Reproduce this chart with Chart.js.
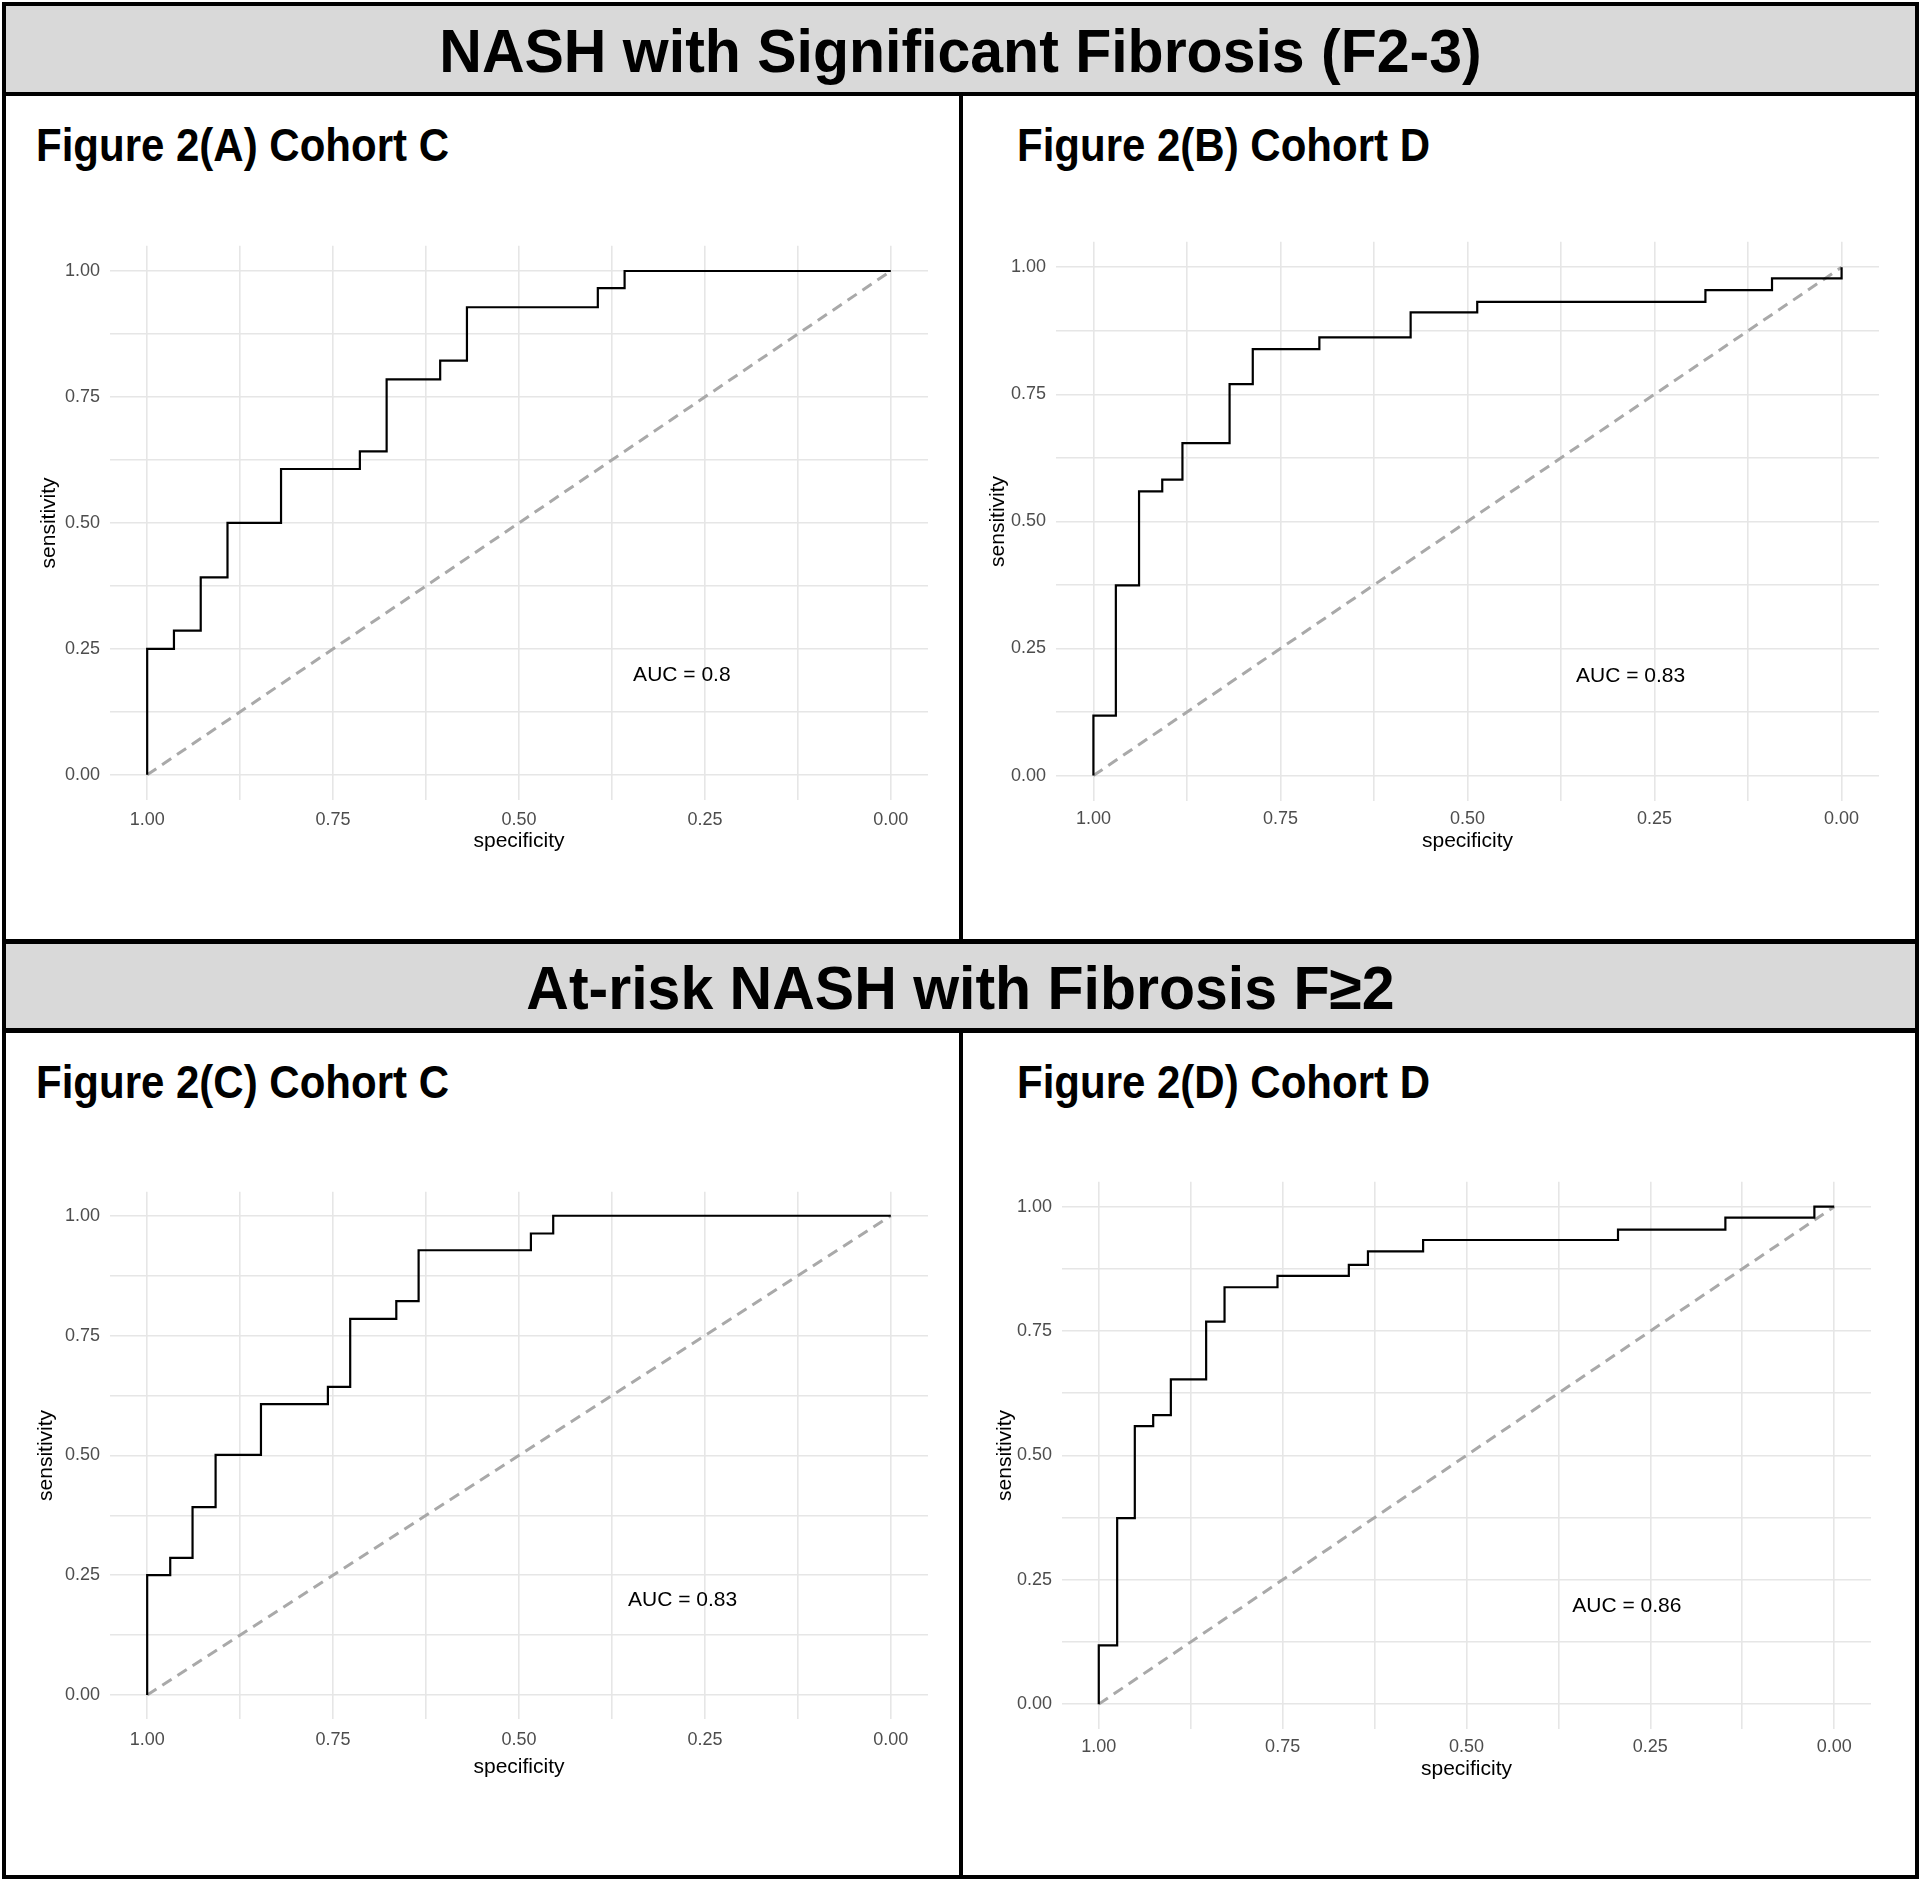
<!DOCTYPE html>
<html>
<head>
<meta charset="utf-8">
<script src="https://cdn.jsdelivr.net/npm/chart.js@4.4.0/dist/chart.umd.min.js"></script>
<style>
body{margin:0;background:#fff;font-family:"Liberation Sans",Arial,sans-serif;}
#page{position:relative;width:1920px;height:1883px;overflow:hidden;background:#fff;}
.frame{position:absolute;left:2px;top:2px;width:1917px;height:1877px;box-sizing:border-box;border:4px solid #000;}
.band{position:absolute;left:6px;width:1909px;background:#d9d9d9;display:flex;align-items:center;justify-content:center;font-weight:bold;font-size:59px;color:#000;white-space:nowrap;box-sizing:border-box;padding-top:3px;}
.band span{display:inline-block;transform:scaleY(1.05);}
.line{position:absolute;background:#000;}
.ptitle{position:absolute;font-weight:bold;font-size:42px;line-height:42px;white-space:nowrap;color:#000;transform:scaleY(1.08);transform-origin:0 36px;}
canvas{position:absolute;}
</style>
</head>
<body>
<div id="page">
  <div class="band" style="top:6px;height:86px;"><span>NASH with Significant Fibrosis (F2-3)</span></div>
  <div class="line" style="left:6px;top:92px;width:1909px;height:4px;"></div>
  <div class="line" style="left:959px;top:96px;width:4px;height:843px;"></div>
  <div class="line" style="left:6px;top:939px;width:1909px;height:5px;"></div>
  <div class="band" style="top:944px;height:84px;"><span>At-risk NASH with Fibrosis F≥2</span></div>
  <div class="line" style="left:6px;top:1028px;width:1909px;height:5px;"></div>
  <div class="line" style="left:959px;top:1033px;width:4px;height:842px;"></div>
  <div class="frame"></div>

  <div class="ptitle" style="left:36px;top:126px;">Figure 2(A) Cohort C</div>
  <div class="ptitle" style="left:1017px;top:126px;">Figure 2(B) Cohort D</div>
  <div class="ptitle" style="left:36px;top:1063px;">Figure 2(C) Cohort C</div>
  <div class="ptitle" style="left:1017px;top:1063px;">Figure 2(D) Cohort D</div>

  <canvas id="chartA"></canvas>
  <canvas id="chartB"></canvas>
  <canvas id="chartC"></canvas>
  <canvas id="chartD"></canvas>
</div>

<script>
"use strict";

// DATA (ROC corner points: specificity, sensitivity)

const specA = [1.000, 0.964, 0.928, 0.892, 0.820, 0.714, 0.678, 0.606, 0.570, 0.394, 0.358, 0.000];
const sensA = [0.000, 0.250, 0.286, 0.392, 0.500, 0.607, 0.642, 0.785, 0.822, 0.928, 0.966, 1.000];

const specB = [1.000, 0.970, 0.939, 0.908, 0.881, 0.818, 0.787, 0.698, 0.576, 0.487, 0.182, 0.093, 0.000, 0.000];
const sensB = [0.000, 0.118, 0.374, 0.559, 0.582, 0.654, 0.770, 0.839, 0.862, 0.911, 0.932, 0.955, 0.978, 1.000];

const specC = [1.000, 0.969, 0.939, 0.908, 0.847, 0.757, 0.727, 0.665, 0.635, 0.484, 0.454, 0.000];
const sensC = [0.000, 0.250, 0.286, 0.392, 0.501, 0.607, 0.643, 0.785, 0.822, 0.928, 0.963, 1.000];

const specD = [1.000, 0.975, 0.951, 0.926, 0.902, 0.854, 0.829, 0.757, 0.660, 0.634, 0.559, 0.294, 0.148, 0.027, 0.000];
const sensD = [0.000, 0.118, 0.374, 0.559, 0.581, 0.653, 0.769, 0.838, 0.861, 0.883, 0.910, 0.933, 0.954, 0.978, 1.000];

const aucLabels = ["AUC = 0.8", "AUC = 0.83", "AUC = 0.83", "AUC = 0.86"];
const aucSpec = [0.281, 0.282, 0.280, 0.282];
const aucSens = [0.197, 0.196, 0.197, 0.196];

const gridValues = [0, 0.125, 0.25, 0.375, 0.5, 0.625, 0.75, 0.875, 1];
const chanceSpec = [1, 0];
const chanceSens = [0, 1];

// LAYOUT (page pixels): chart area, y title centre x, x title centre y, x tick centre y

const panels = [
    {id: "chartA", spec: specA, sens: sensA, l: 110, r: 928, t: 246, b: 800, yTitleX: 50, xTitleY: 841, xTickY: 820},
    {id: "chartB", spec: specB, sens: sensB, l: 1056, r: 1879, t: 242, b: 801, yTitleX: 999, xTitleY: 841, xTickY: 819},
    {id: "chartC", spec: specC, sens: sensC, l: 110, r: 928, t: 1192, b: 1719, yTitleX: 47, xTitleY: 1767, xTickY: 1740},
    {id: "chartD", spec: specD, sens: sensD, l: 1062, r: 1871, t: 1182, b: 1729, yTitleX: 1006, xTitleY: 1769, xTickY: 1747}
];

const FONT = '"Liberation Sans", Arial, sans-serif';
const TICK_SIZE = 18;
const TITLE_SIZE = 21;
const Y_TICK_PAD = 10;

const toPoints = (xs, ys) => xs.map((x, i) => ({x: x, y: ys[i]}));

const tickLabel = v => {
    const q = v * 4;
    return Math.abs(q - Math.round(q)) < 1e-9 ? v.toFixed(2) : "";
};

// AUC TEXT

const aucPlugin = {
    id: "aucText",
    afterDatasetsDraw(chart, args, opts) {
        const ctx = chart.ctx;
        const x = chart.scales.x.getPixelForValue(opts.spec);
        const y = chart.scales.y.getPixelForValue(opts.sens);
        ctx.save();
        ctx.fillStyle = "#000";
        ctx.font = `${TITLE_SIZE}px ${FONT}`;
        ctx.textAlign = "center";
        ctx.textBaseline = "middle";
        ctx.fillText(opts.text, x, y);
        ctx.restore();
    }
};

const makeChart = (p, idx) => {
    const titleHalf = TITLE_SIZE * 1.2 / 2;
    // y scale keeps half a label plus its padding above the chart area
    const topGap = TICK_SIZE * 1.2 / 2 + Y_TICK_PAD;
    const left = Math.round(p.yTitleX - titleHalf);
    const top = Math.round(p.t - topGap);
    const bottom = Math.round(p.xTitleY + titleHalf);
    const width = p.r + 10 - left;
    const height = bottom - top;

    const canvas = document.getElementById(p.id);
    canvas.style.left = left + "px";
    canvas.style.top = top + "px";
    canvas.width = width;
    canvas.height = height;
    canvas.style.width = width + "px";
    canvas.style.height = height + "px";

    const tickPad = Math.max(0, Math.round(p.xTickY - p.b - TICK_SIZE * 1.2 / 2));

    return new Chart(canvas.getContext("2d"), {
        type: "scatter",
        data: {
            datasets: [{
                data: toPoints(p.spec, p.sens),
                showLine: true,
                stepped: "after",
                borderColor: "#000",
                borderWidth: 2.2,
                pointRadius: 0,
                fill: false
            }, {
                data: toPoints(chanceSpec, chanceSens),
                showLine: true,
                borderColor: "#a9a9a9",
                borderWidth: 3,
                borderDash: [11, 7],
                pointRadius: 0,
                fill: false
            }]
        },
        options: {
            responsive: false,
            animation: false,
            devicePixelRatio: 1,
            layout: {padding: {top: 0, right: 10, left: 0, bottom: 0}},
            plugins: {
                legend: {display: false},
                tooltip: {enabled: false},
                aucText: {text: aucLabels[idx], spec: aucSpec[idx], sens: aucSens[idx]}
            },
            scales: {
                x: {
                    type: "linear",
                    reverse: true,
                    min: -0.05,
                    max: 1.05,
                    afterBuildTicks: s => { s.ticks = gridValues.map(v => ({value: v})); },
                    afterFit: s => { s.height = bottom - p.b; },
                    grid: {color: "#e6e6e6", lineWidth: 1.6, drawTicks: false},
                    border: {display: false},
                    ticks: {
                        autoSkip: false,
                        maxRotation: 0,
                        padding: tickPad,
                        color: "#4d4d4d",
                        font: {family: FONT, size: TICK_SIZE},
                        callback: tickLabel
                    },
                    title: {
                        display: true,
                        text: "specificity",
                        color: "#000",
                        padding: 0,
                        font: {family: FONT, size: TITLE_SIZE, lineHeight: 1.2}
                    }
                },
                y: {
                    type: "linear",
                    min: -0.05,
                    max: 1.05,
                    afterBuildTicks: s => { s.ticks = gridValues.map(v => ({value: v})); },
                    afterFit: s => { s.width = p.l - left; },
                    grid: {color: "#e6e6e6", lineWidth: 1.6, drawTicks: false},
                    border: {display: false},
                    ticks: {
                        autoSkip: false,
                        padding: Y_TICK_PAD,
                        color: "#4d4d4d",
                        font: {family: FONT, size: TICK_SIZE},
                        callback: tickLabel
                    },
                    title: {
                        display: true,
                        text: "sensitivity",
                        color: "#000",
                        padding: 0,
                        font: {family: FONT, size: TITLE_SIZE, lineHeight: 1.2}
                    }
                }
            }
        },
        plugins: [aucPlugin]
    });
};

const charts = panels.map(makeChart);
</script>
</body>
</html>
